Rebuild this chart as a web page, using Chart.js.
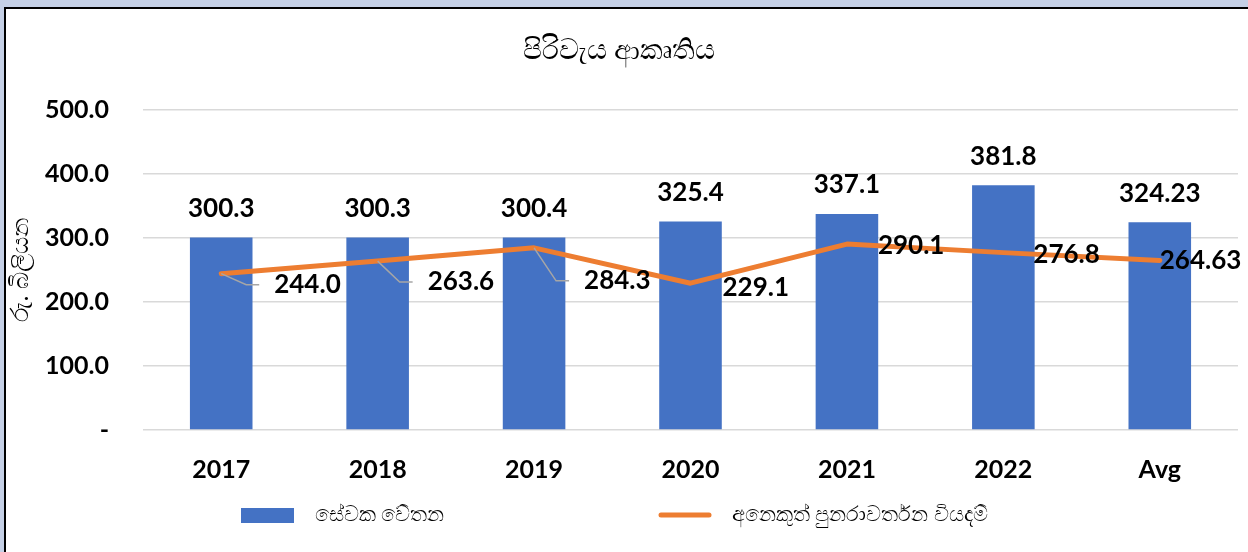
<!DOCTYPE html>
<html>
<head>
<meta charset="utf-8">
<script src="https://cdn.jsdelivr.net/npm/chart.js@4"></script>
<style>
  html, body { margin: 0; padding: 0; }
  body { width: 1248px; height: 552px; background: #c5d0e6; position: relative; overflow: hidden; }
  #frame { position: absolute; left: 4px; top: 7px; right: 0; bottom: 0; background: #fff;
           border-left: 2px solid #000; border-top: 2px solid #000; }
  #myChart { position: absolute; left: 0; top: 0; }
</style>
</head>
<body>
<div id="frame"></div>
<canvas id="myChart" width="1248" height="552"></canvas>
<script>
var years = ['2017', '2018', '2019', '2020', '2021', '2022', 'Avg'];
var salaryValues = [300.3, 300.3, 300.4, 325.4, 337.1, 381.8, 324.23];
var otherValues = [244.0, 263.6, 284.3, 229.1, 290.1, 276.8, 264.63];
var salaryName = 'සේවක වේතන';
var otherName = 'අනෙකුත් පුනරාවර්තන වියදම්';
var chartTitle = 'පිරිවැය ආකෘතිය';
var yTitle = 'රු. බිලියන';

var numFont = 'Lato, "Liberation Sans", sans-serif';
var sinFont = '"Noto Sans", sans-serif';

function fmt(v) {
    var t = v * 10;
    return Math.abs(t - Math.round(t)) < 1e-6 ? v.toFixed(1) : v.toFixed(2);
}

// where the line labels sit relative to their point (dragged labels get a leader line)
var lineLabelShift = [[53, 11], [50, 21], [50, 33], [32, 4], [31, 2], [30, 2], [0, 0]];

var labelsPlugin = {
    id: 'labels',
    afterDatasetsDraw: function(chart) {
        var ctx = chart.ctx;
        ctx.save();
        ctx.font = 'bold 26px ' + numFont;
        ctx.fillStyle = '#000';
        ctx.textBaseline = 'middle';

        var bars = chart.getDatasetMeta(0).data;
        ctx.textAlign = 'center';
        bars.forEach(function(bar, i) {
            ctx.fillText(fmt(salaryValues[i]), bar.x, bar.y - 29);
        });

        var pts = chart.getDatasetMeta(1).data;
        ctx.textAlign = 'left';
        pts.forEach(function(p, i) {
            var tx = p.x + lineLabelShift[i][0];
            var ty = p.y + lineLabelShift[i][1];
            if (lineLabelShift[i][1] > 5) {
                ctx.strokeStyle = '#a6a6a6';
                ctx.lineWidth = 1.5;
                ctx.beginPath();
                ctx.moveTo(p.x, p.y);
                ctx.lineTo(tx - 28, ty);
                ctx.lineTo(tx - 15, ty);
                ctx.stroke();
            }
            ctx.fillText(fmt(otherValues[i]), tx, ty);
        });
        ctx.restore();
    },
    afterDraw: function(chart) {
        var ctx = chart.ctx;
        var ds = chart.data.datasets;
        ctx.save();
        ctx.fillStyle = ds[0].backgroundColor;
        ctx.fillRect(241, 508, 53, 15);
        ctx.strokeStyle = ds[1].borderColor;
        ctx.lineWidth = 5;
        ctx.lineCap = 'round';
        ctx.beginPath();
        ctx.moveTo(661, 515);
        ctx.lineTo(709, 515);
        ctx.stroke();
        ctx.fillStyle = '#000';
        ctx.font = '21px ' + sinFont;
        ctx.textBaseline = 'middle';
        ctx.textAlign = 'left';
        ctx.fillText(ds[0].label, 315, 515);
        ctx.fillText(ds[1].label, 732, 515);
        ctx.restore();
    }
};

var ctx = document.getElementById('myChart').getContext('2d');
var myChart = new Chart(ctx, {
    data: {
        labels: years,
        datasets: [{
            type: 'bar',
            label: salaryName,
            data: salaryValues,
            backgroundColor: '#4472c4',
            barPercentage: 0.8,
            categoryPercentage: 0.5,
            order: 2
        }, {
            type: 'line',
            label: otherName,
            data: otherValues,
            borderColor: '#ed7d31',
            backgroundColor: '#ed7d31',
            borderWidth: 5,
            pointRadius: 0,
            tension: 0,
            borderCapStyle: 'round',
            borderJoinStyle: 'round',
            order: 1
        }]
    },
    options: {
        responsive: false,
        animation: false,
        layout: { padding: { top: 0, left: 0, right: 10, bottom: 50 } },
        plugins: {
            legend: { display: false },
            tooltip: { enabled: false },
            title: {
                display: true,
                text: chartTitle,
                color: '#000',
                font: { family: sinFont, size: 28, weight: 'normal' },
                padding: { top: 34, bottom: 42 }
            }
        },
        scales: {
            x: {
                grid: { display: false },
                border: { display: false },
                ticks: { color: '#000', font: { family: numFont, size: 25, weight: 'bold' }, padding: 17 },
                afterFit: function(s) { s.height = 72; }
            },
            y: {
                min: 0,
                max: 500,
                ticks: {
                    stepSize: 100,
                    color: '#000',
                    padding: 34,
                    font: { family: numFont, size: 25, weight: 'bold' },
                    callback: function(v) { return v === 0 ? '-' : v.toFixed(1); }
                },
                grid: { color: '#d9d9d9', lineWidth: 1.5, drawTicks: false },
                border: { display: false },
                title: {
                    display: true,
                    text: yTitle,
                    color: '#000',
                    font: { family: sinFont, size: 24 },
                    padding: { top: 7, bottom: 0 }
                },
                afterFit: function(s) { s.width = 143; }
            }
        }
    },
    plugins: [labelsPlugin]
});
</script>
</body>
</html>
